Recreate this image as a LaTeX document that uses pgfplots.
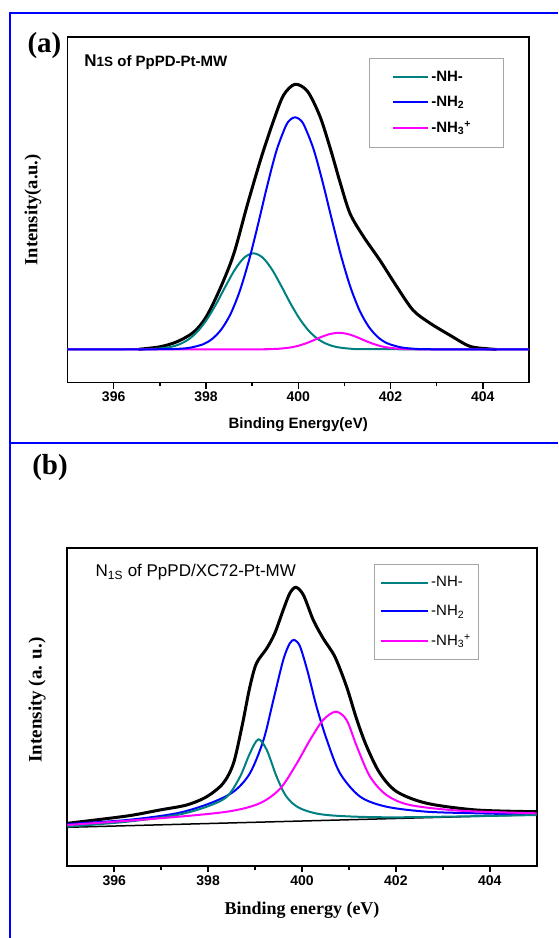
\documentclass[border=0pt]{standalone}
\usepackage{fontspec}
\setmainfont{Liberation Serif}
\setsansfont{Liberation Sans}
\usepackage{pgfplots}
\pgfplotsset{compat=1.18}

\definecolor{nhteal}{RGB}{0,128,128}
\definecolor{nhblue}{RGB}{0,0,255}
\definecolor{nhmag}{RGB}{255,0,255}

\pgfplotsset{
  xpsframe/.style={
    scale only axis,
    xmin=395, xmax=405,
    xtick={396,398,...,404},
    minor xtick={397,399,401,403},
    ytick=\empty,
    xtick pos=left,
    tick align=outside,
    major tick length=6pt,
    minor tick length=3.5pt,
    every tick/.style={black, line width=1.5pt},
    axis line style={line width=1.8pt},
    /pgf/number format/assume math mode=true,
    clip=true,
  },
}

\begin{document}
\begin{tikzpicture}[x=1pt,y=1pt]
\useasboundingbox (0,0) rectangle (558,-938);
% blue panel frame
\draw[nhblue, line width=2.6pt, line join=miter] (10,-938) -- (10,-13) -- (558,-13);
\draw[nhblue, line width=2.6pt] (10,-443) -- (558,-443);

% panel letters
\node[font=\bfseries\fontsize{29}{29}\selectfont] at (44.5,-46) {(a)};
\node[font=\bfseries\fontsize{29}{29}\selectfont] at (50,-468) {(b)};

% ---------------- (a) N1s of PpPD-Pt-MW ----------------
\begin{axis}[xpsframe,
  at={(67.5pt,-382.5pt)}, anchor=south west,
  width=461.5pt, height=345.5pt,
  ymin=-33.2, ymax=312.3,
  xticklabel style={font=\sffamily\bfseries\fontsize{14}{14}\selectfont},
  xlabel={Binding Energy(eV)},
  xlabel style={at={(rel axis cs:0.5,-0.123)}, anchor=center,
    font=\sffamily\bfseries\fontsize{15}{15}\selectfont},
  ylabel={Intensity(a.u.)},
  ylabel style={at={(rel axis cs:-0.075,0.5)}, anchor=center,
    font=\bfseries\fontsize{18.5}{18.5}\selectfont},
  legend image code/.code={\draw[#1] (0pt,0pt) -- (35pt,0pt);},
  legend cell align=left,
  legend style={at={(rel axis cs:0.653,0.939)}, anchor=north west,
    draw=gray!70, line width=0.8pt, fill=white,
    inner xsep=23pt, inner ysep=11pt, row sep=9pt,
    font=\sffamily\bfseries\fontsize{15}{18}\selectfont},
]
% measured envelope
\addplot[black, line width=3pt, smooth, forget plot] coordinates {
 (396.54,0) (397.0,2.5) (397.37,7.5) (397.73,17) (398.0,32) (398.3,60)
 (398.6,95) (398.9,145) (399.2,192) (399.46,228) (399.68,254) (399.93,265)
 (400.2,258) (400.47,233) (400.7,200) (400.9,168) (401.12,136) (401.41,113)
 (401.77,89) (402.13,63) (402.49,39) (402.86,26) (403.29,14) (403.72,3)
 (404.16,0.3) (404.3,0)};
% -NH-
\addplot[nhteal, line width=2pt, smooth, forget plot] coordinates {
 (395,0) (396.5,0.1) (396.93,0.6) (397.23,2.3) (397.43,5.1) (397.63,10.1)
 (397.83,18.4) (398.03,30.5) (398.23,46) (398.43,63.5) (398.63,79.9)
 (398.83,91.7) (399.03,96) (399.23,91.7) (399.43,79.9) (399.63,63.5)
 (399.83,46) (400.03,30.5) (400.23,18.4) (400.43,10.1) (400.63,5.1)
 (400.83,2.3) (401.13,0.6) (401.6,0.1) (405,0)};
% -NH3+
\addplot[nhmag, line width=2pt, smooth, forget plot] coordinates {
 (395,0) (399.0,0.05) (399.28,0.1) (399.58,0.56) (399.88,2.2) (400.08,4.6)
 (400.28,8.0) (400.48,12) (400.68,15.2) (400.88,16.5) (401.08,15.2)
 (401.28,12) (401.48,8.0) (401.68,4.6) (401.88,2.2) (402.18,0.56)
 (402.48,0.1) (402.8,0.05) (405,0)};
% -NH2
\addplot[nhblue, line width=2pt, smooth, forget plot] coordinates {
 (395,0) (396.9,0.05) (397.33,0.35) (397.63,1.4) (397.93,4.9) (398.13,10.2)
 (398.33,19.7) (398.53,35) (398.73,57.9) (398.93,88.5) (399.13,125.2)
 (399.33,164) (399.53,198.9) (399.73,223.3) (399.83,229.8) (399.93,232)
 (400.03,230) (400.13,223.7) (400.33,200.4) (400.53,167) (400.73,129.3)
 (400.93,93.1) (401.13,62.3) (401.33,38.7) (401.53,22.4) (401.73,12)
 (401.93,6) (402.23,1.9) (402.53,0.5) (402.9,0.05) (405,0)};
\addlegendimage{nhteal, line width=2pt}
\addlegendentry{-NH-}
\addlegendimage{nhblue, line width=2pt}
\addlegendentry{-NH\textsubscript{2}}
\addlegendimage{nhmag, line width=2pt}
\addlegendentry{-NH\textsubscript{3}\textsuperscript{+}\hspace*{8pt}}
\node[anchor=west, font=\sffamily\bfseries] at (rel axis cs:0.029,0.928)
  {{\fontsize{17}{17}\selectfont N}{\fontsize{13.5}{15}\selectfont 1S}{\fontsize{15}{15}\selectfont{} of PpPD-Pt-MW}};
\end{axis}

% ---------------- (b) N1s of PpPD/XC72-Pt-MW ----------------
\begin{axis}[xpsframe,
  at={(67.3pt,-866pt)}, anchor=south west,
  width=469.4pt, height=317.7pt,
  ymin=4, ymax=321.7,
  xticklabel style={font=\sffamily\bfseries\fontsize{14}{14}\selectfont},
  xlabel={Binding energy (eV)},
  xlabel style={at={(rel axis cs:0.5,-0.1385)}, anchor=center,
    font=\bfseries\fontsize{18}{18}\selectfont},
  ylabel={Intensity (a. u.)},
  ylabel style={at={(rel axis cs:-0.0646,0.5225)}, anchor=center,
    font=\bfseries\fontsize{19}{19}\selectfont},
  legend image code/.code={\draw[#1] (0pt,0pt) -- (47pt,0pt);},
  legend cell align=left,
  legend style={at={(rel axis cs:0.653,0.95)}, anchor=north west,
    draw=gray!70, line width=0.8pt, fill=white,
    inner xsep=6pt, inner ysep=10pt, row sep=13pt,
    font=\sffamily\fontsize{15}{18}\selectfont},
]
% linear background
\addplot[black, line width=1.5pt, forget plot] coordinates {(395,42.7) (405,55.3)};
% measured envelope
\addplot[black, line width=3pt, smooth, forget plot] coordinates {
 (395,46.7) (396.27,54) (396.97,60) (397.54,65) (397.97,73.3) (398.32,86.7)
 (398.54,106.7) (398.72,143.3) (398.89,183.3) (399.03,206.7) (399.25,221.7)
 (399.42,236.7) (399.60,260) (399.74,276.7) (399.87,282.7) (400.03,275)
 (400.24,250) (400.45,231.7) (400.70,213.3) (400.95,183.3) (401.17,150)
 (401.38,123.3) (401.66,96.7) (402.02,78.3) (402.66,66.7) (403.72,60)
 (405,58.3)};
% -NH2
\addplot[nhblue, line width=2pt, smooth, forget plot] coordinates {
 (395,46) (396.27,50) (397.33,56.7) (398.04,66.7) (398.54,78.3) (398.89,96.7)
 (399.18,130) (399.39,170) (399.60,210) (399.74,226.7) (399.84,230)
 (399.96,223.3) (400.13,196.7) (400.31,163.3) (400.53,130) (400.81,96.7)
 (401.24,73.3) (401.80,63.3) (402.66,58.3) (403.72,56.7) (405,55.3)};
% -NH-
\addplot[nhteal, line width=2pt, smooth, forget plot] coordinates {
 (395,43.3) (396.27,48.3) (397.33,55) (397.97,63.3) (398.40,73.3)
 (398.68,93.3) (398.89,116.7) (399.07,130.7) (399.25,120) (399.46,93.3)
 (399.67,73.3) (399.96,61.7) (400.53,55) (401.95,52.7) (405,55)};
% -NH3+
\addplot[nhmag, line width=2pt, smooth, forget plot] coordinates {
 (395,45) (396.97,51.7) (398.40,58.3) (399.10,66.7) (399.54,81.7)
 (399.89,106.7) (400.17,130) (400.45,150) (400.72,158.3) (400.95,150)
 (401.17,123.3) (401.45,93.3) (401.80,75) (402.30,65) (403.37,59.3)
 (405,56.7)};
\addlegendimage{nhteal, line width=2pt}
\addlegendentry{-NH-}
\addlegendimage{nhblue, line width=2pt}
\addlegendentry{-NH\textsubscript{2}}
\addlegendimage{nhmag, line width=2pt}
\addlegendentry{-NH\textsubscript{3}\textsuperscript{+}}
\node[anchor=west, font=\sffamily\fontsize{17}{17}\selectfont] at (rel axis cs:0.053,0.925)
  {N\textsubscript{1S} of PpPD/XC72-Pt-MW};
\end{axis}
\end{tikzpicture}
\end{document}
